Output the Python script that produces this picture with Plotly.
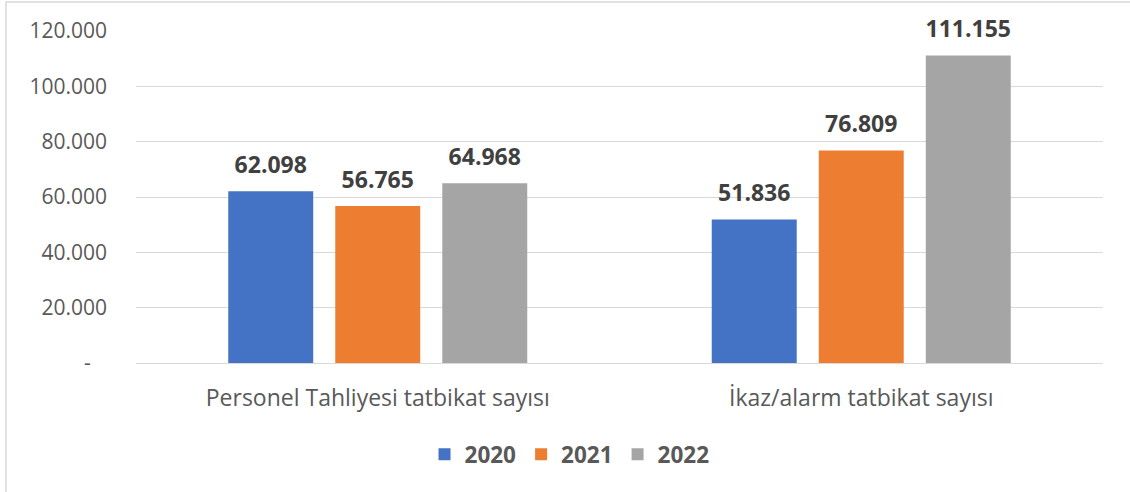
import plotly.graph_objects as go

categories = ["Personel Tahliyesi tatbikat sayısı", "İkaz/alarm tatbikat sayısı"]
years = ["2020", "2021", "2022"]
values_2020 = [62098, 51836]
values_2021 = [56765, 76809]
values_2022 = [64968, 111155]
tick_vals = [0, 20000, 40000, 60000, 80000, 100000, 120000]
tick_text = ["-\u00a0\u00a0\u00a0", "20.000", "40.000", "60.000", "80.000", "100.000", "120.000"]

colors = ["#4472C4", "#ED7D31", "#A5A5A5"]
series = [values_2020, values_2021, values_2022]

FONT = "Open Sans"
fig = go.Figure()
for name, vals, col in zip(years, series, colors):
    fig.add_trace(go.Bar(
        x=categories, y=vals, name=name,
        marker=dict(color=col, line=dict(width=0)),
        text=vals,
        texttemplate="<span style='font-size:23px'>%{y:,.0f}</span><br> ",
        textposition="outside", cliponaxis=False, constraintext="none",
        textfont=dict(family=FONT, size=9.5, color="#404040", weight="bold"),
    ))

W, H = 1130, 492
L, R, T, B = 136, 27, 31, 129
pw, ph = W - L - R, H - T - B

def px_x(p):
    return (p - L) / pw

def px_y(p):
    return (H - B - p) / ph

fig.update_layout(
    width=W, height=H,
    margin=dict(l=L, r=R, t=T, b=B, autoexpand=False),
    paper_bgcolor="white", plot_bgcolor="white",
    barmode="group", bargap=0.336, bargroupgap=0.206,
    separators=",.",
    font=dict(family=FONT, color="#595959"),
    showlegend=True,
    legend=dict(
        orientation="h", xref="container", yref="container",
        x=0.504, xanchor="center", y=0.076, yanchor="middle",
        font=dict(family=FONT, size=22.5, color="#595959", weight="bold"),
        itemwidth=30, traceorder="normal",
    ),
    xaxis=dict(
        showgrid=False, zeroline=False, showline=False,
        ticks="", tickfont=dict(family=FONT, size=23, color="#595959"),
        ticklabelstandoff=19,
    ),
    yaxis=dict(
        range=[0, 120000], tickvals=tick_vals, ticktext=tick_text,
        showgrid=True, gridcolor="#D9D9D9", gridwidth=1.3,
        zeroline=True, zerolinecolor="#D9D9D9", zerolinewidth=1.3,
        showline=False, ticks="",
        tickfont=dict(family=FONT, size=21, color="#595959"),
        ticklabelstandoff=28,
    ),
    shapes=[
        dict(type="rect", xref="paper", yref="paper",
             x0=px_x(6), x1=px_x(1140), y0=px_y(500), y1=px_y(2),
             line=dict(color="#D9D9D9", width=1.5), fillcolor="rgba(0,0,0,0)", layer="below"),
    ],
)

fig.write_html("out.html", config={"displayModeBar": False},
               post_script="document.body.style.margin='0px';document.body.style.overflow='hidden';")
